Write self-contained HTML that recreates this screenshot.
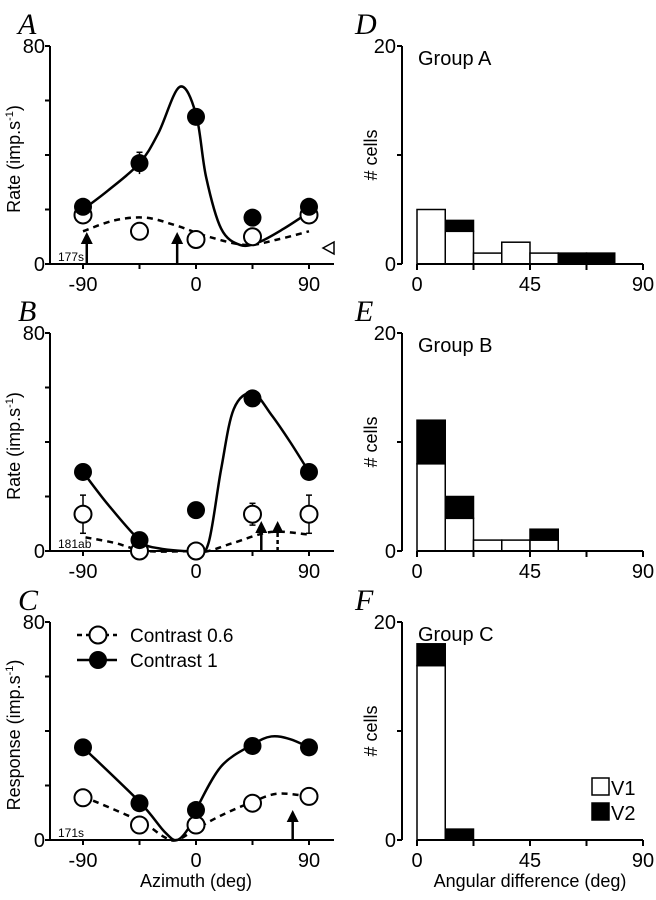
<!DOCTYPE html>
<html><head><meta charset="utf-8"><style>
html,body{margin:0;padding:0;background:#fff;}
svg{display:block;font-family:"Liberation Sans",Arial,sans-serif;}
</style></head><body>
<svg id="fig" width="656" height="900" viewBox="0 0 656 900"></svg>
<script>
// ---- Tuning curve data (azimuth deg / rate imp/s) ----
const azimuths = [-90, -45, 0, 45, 90];
const aFilled = [21, 37, 54, 17, 21];
const aOpen = [18, 12, 9, 10, 18];
const aFilledErr = [2, 4, 2, 1, 2];
const aOpenErr = [1, 1, 1, 1, 1];
const aFitSolidX = [-90, -70, -45, -30, -13, 0, 8, 20, 35, 50, 70, 90];
const aFitSolidY = [20, 27, 37, 48, 65, 55, 32, 13, 7, 8, 13, 19];
const aFitDashX = [-90, -65, -40, -15, 10, 40, 65, 90];
const aFitDashY = [12, 16, 17, 14, 10, 7, 9, 12];
const aArrows = [-87, -15];

const bFilled = [29, 4, 15, 56, 29];
const bOpen = [13.5, 0, 0, 13.5, 13.5];
const bFilledErr = [2, 1, 0, 2, 2];
const bOpenErr = [7, 0, 0, 4, 7];
const bFitSolidX = [-90, -70, -45, -30, 0, 10, 20, 30, 45, 60, 75, 90];
const bFitSolidY = [29, 17, 4, 1, 0, 3, 30, 52, 58, 50, 40, 29];
const bFitDashX = [-88, -65, -40, 0, 10, 30, 60, 90];
const bFitDashY = [5, 3, 0, 0, 0, 3, 7, 6];
const bArrows = [52, 65];

const cFilled = [34, 13.5, 11, 34.5, 34];
const cOpen = [15.5, 5.5, 5.5, 13.5, 16];
const cFitSolidX = [-90, -45, -25, -15, -5, 0, 20, 45, 60, 75, 90];
const cFitSolidY = [34, 14, 3, 0, 5, 11, 27, 35, 38, 37, 34];
const cFitDashX = [-90, -45, -25, -15, 0, 20, 45, 65, 90];
const cFitDashY = [16, 7, 1, 0, 4, 9, 14, 17, 16];
const cArrows = [77];

// ---- Histogram data (counts per 11.25 deg bin) ----
const binEdges = [0, 11.25, 22.5, 33.75, 45, 56.25, 67.5, 78.75, 90];
const dV1 = [5, 3, 1, 2, 1, 0, 0, 0];
const dV2 = [0, 1, 0, 0, 0, 1, 1, 0];
const eV1 = [8, 3, 1, 1, 1, 0, 0, 0];
const eV2 = [4, 2, 0, 0, 1, 0, 0, 0];
const fV1 = [16, 0, 0, 0, 0, 0, 0, 0];
const fV2 = [2, 1, 0, 0, 0, 0, 0, 0];
const azTicks = [-90, -45, 0, 45, 90];
const azLabels = ["-90", "0", "90"];
const angTicks = [0, 22.5, 45, 67.5, 90];

const NS = "http://www.w3.org/2000/svg";
const svg = document.getElementById('fig');
function mk(tag, attrs, parent) {
  const e = document.createElementNS(NS, tag);
  for (const k in attrs) e.setAttribute(k, attrs[k]);
  (parent || svg).appendChild(e);
  return e;
}
function txt(s, x, y, size, anchor, parent, extra) {
  const t = mk('text', Object.assign({x: x, y: y, 'font-size': size, 'text-anchor': anchor || 'start', fill: '#000'}, extra || {}), parent);
  t.textContent = s;
  return t;
}
function smooth(pts) {
  let d = 'M' + pts[0][0] + ',' + pts[0][1];
  for (let i = 0; i < pts.length - 1; i++) {
    const p0 = pts[Math.max(0, i - 1)], p1 = pts[i], p2 = pts[i + 1], p3 = pts[Math.min(pts.length - 1, i + 2)];
    const c1x = p1[0] + (p2[0] - p0[0]) / 6, c1y = p1[1] + (p2[1] - p0[1]) / 6;
    const c2x = p2[0] - (p3[0] - p1[0]) / 6, c2y = p2[1] - (p3[1] - p1[1]) / 6;
    d += ' C' + c1x + ',' + c1y + ' ' + c2x + ',' + c2y + ' ' + p2[0] + ',' + p2[1];
  }
  return d;
}

function tuningPanel(o) {
  const g = mk('g', {});
  
  
  const y0 = o.y0, y80 = o.y0 - 218;
  const X = a => 196 + a * 113 / 90;
  const Y = v => y0 - v * (y0 - y80) / 80;
  const L = txt(o.letter, 18, y80 - 12, 30, 'start', g, {'font-family': '"Liberation Serif",serif', 'font-style': 'italic'});
   
  const ax = mk('g', {stroke: '#000', 'stroke-width': 2, fill: 'none'}, g);
   
  mk('line', {x1: 50, y1: y80, x2: 50, y2: y0}, ax);
  mk('line', {x1: 49, y1: y0, x2: 334, y2: y0}, ax);
  for (let v = 0; v <= 80; v += 20) mk('line', {x1: 45, y1: Y(v), x2: 50, y2: Y(v)}, ax);
  azTicks.forEach(a => mk('line', {x1: X(a), y1: y0, x2: X(a), y2: y0 + 5}, ax));
  const yl1 = txt('80', 45, y80 + 7, 20, 'end', g);  
  const yl0 = txt('0', 45, y0 + 7, 20, 'end', g);  
  [-90, 0, 90].forEach((a, i) => { const t = txt(azLabels[i], X(a), y0 + 27, 20, 'middle', g);   });
  const yt = txt(o.ylabel, 0, 0, 18, 'middle', g, {transform: 'translate(20,' + ((y0 + y80) / 2 + 4) + ') rotate(-90)'});
   
  const sup = mk('tspan', {'font-size': 11, dy: -7}, yt); sup.textContent = '-1';
  const close = mk('tspan', {dy: 7}, yt); close.textContent = ')';
  const cl = txt(o.cell, 58, y0 - 3, 12, 'start', g);  
  const ds = mk('path', {d: smooth(o.dx.map((a, i) => [X(a), Y(o.dy[i])])), stroke: '#000', 'stroke-width': 2.5, fill: 'none', 'stroke-dasharray': '6,5'}, g);
   
  const sl = mk('path', {d: smooth(o.sx.map((a, i) => [X(a), Y(o.sy[i])])), stroke: '#000', 'stroke-width': 2.5, fill: 'none'}, g);
   
  o.arrows.forEach((a, i) => {
    const ag = mk('g', {}, g);
     
    const top = y0 - o.arrowLen;
    mk('line', {x1: X(a), y1: y0, x2: X(a), y2: top + 6, stroke: '#000', 'stroke-width': 2.5, 'stroke-dasharray': (o.dashedArrow && i === o.arrows.length - 1) ? '4,3' : 'none'}, ag);
    mk('polygon', {points: (X(a) - 6) + ',' + (top + 12) + ' ' + (X(a) + 6) + ',' + (top + 12) + ' ' + X(a) + ',' + top, fill: '#000'}, ag);
  });
  azimuths.forEach((a, i) => {
    const cx = X(a);
    if (o.openErr) {
      const e = o.openErr[i];
      if (e > 1) {
        const eb = mk('g', {stroke: '#000', 'stroke-width': 1.5}, g);
         
        mk('line', {x1: cx, y1: Y(o.open[i] - e), x2: cx, y2: Y(o.open[i] + e)}, eb);
        mk('line', {x1: cx - 3, y1: Y(o.open[i] + e), x2: cx + 3, y2: Y(o.open[i] + e)}, eb);
        mk('line', {x1: cx - 3, y1: Y(o.open[i] - e), x2: cx + 3, y2: Y(o.open[i] - e)}, eb);
      }
    }
    const c1 = mk('circle', {cx: cx, cy: Y(o.open[i]), r: 8.5, fill: '#fff', stroke: '#000', 'stroke-width': 2}, g);
     
    if (o.filledErr) {
      const e = o.filledErr[i];
      if (e > 0) {
        const eb = mk('g', {stroke: '#000', 'stroke-width': 1.5}, g);
         
        mk('line', {x1: cx, y1: Y(o.filled[i] - e), x2: cx, y2: Y(o.filled[i] + e)}, eb);
        mk('line', {x1: cx - 3, y1: Y(o.filled[i] + e), x2: cx + 3, y2: Y(o.filled[i] + e)}, eb);
      }
    }
    const c2 = mk('circle', {cx: cx, cy: Y(o.filled[i]), r: 9, fill: '#000'}, g);
     
  });
  return {g: g, X: X, Y: Y, y0: y0};
}

const pa = tuningPanel({name: 'panel-a', letter: 'A', y0: 264, ylabel: 'Rate (imp.s', cell: '177s', filled: aFilled, open: aOpen, filledErr: aFilledErr, openErr: aOpenErr, sx: aFitSolidX, sy: aFitSolidY, dx: aFitDashX, dy: aFitDashY, arrows: aArrows, arrowLen: 32});
const tri = mk('polygon', {points: '323,248 334,242 334,254', fill: '#fff', stroke: '#000', 'stroke-width': 1.5}, pa.g);
 
tuningPanel({name: 'panel-b', letter: 'B', y0: 551, ylabel: 'Rate (imp.s', cell: '181ab', filled: bFilled, open: bOpen, filledErr: bFilledErr, openErr: bOpenErr, sx: bFitSolidX, sy: bFitSolidY, dx: bFitDashX, dy: bFitDashY, arrows: bArrows, arrowLen: 30, dashedArrow: true});
const pc = tuningPanel({name: 'panel-c', letter: 'C', y0: 840, ylabel: 'Response (imp.s', cell: '171s', filled: cFilled, open: cOpen, sx: cFitSolidX, sy: cFitSolidY, dx: cFitDashX, dy: cFitDashY, arrows: cArrows, arrowLen: 30});
const xt = txt('Azimuth (deg)', 196, 887, 18, 'middle', pc.g);  
const lg = mk('g', {}, pc.g);
 
mk('line', {x1: 77, y1: 635, x2: 117, y2: 635, stroke: '#000', 'stroke-width': 2.5, 'stroke-dasharray': '5,4'}, lg);
mk('circle', {cx: 98, cy: 635, r: 8.5, fill: '#fff', stroke: '#000', 'stroke-width': 2}, lg);
txt('Contrast 0.6', 130, 642, 19, 'start', lg);
mk('line', {x1: 77, y1: 660, x2: 117, y2: 660, stroke: '#000', 'stroke-width': 2.5}, lg);
mk('circle', {cx: 98, cy: 660, r: 9, fill: '#000'}, lg);
txt('Contrast 1', 130, 667, 19, 'start', lg);

function histPanel(o) {
  const g = mk('g', {});
  
  
  const y0 = o.y0, y20 = o.y0 - 218;
  const X = a => 417 + a * 226 / 90;
  const Y = v => y0 - v * (y0 - y20) / 20;
  const L = txt(o.letter, 355, y20 - 12, 30, 'start', g, {'font-family': '"Liberation Serif",serif', 'font-style': 'italic'});
   
  const gt = txt(o.group, 418, y20 + 19, 20, 'start', g);  
  binEdges.slice(0, -1).forEach((b, i) => {
    const x1 = X(b), x2 = X(binEdges[i + 1]);
    if (o.v1[i] > 0) {
      const r = mk('rect', {x: x1, y: Y(o.v1[i]), width: x2 - x1, height: Y(0) - Y(o.v1[i]), fill: '#fff', stroke: '#000', 'stroke-width': 1.5}, g);
       
    }
    if (o.v2[i] > 0) {
      const r = mk('rect', {x: x1, y: Y(o.v1[i] + o.v2[i]), width: x2 - x1, height: Y(o.v1[i]) - Y(o.v1[i] + o.v2[i]), fill: '#000', stroke: '#000', 'stroke-width': 1.5}, g);
       
    }
  });
  const ax = mk('g', {stroke: '#000', 'stroke-width': 2}, g);
   
  mk('line', {x1: 402, y1: y20, x2: 402, y2: y0}, ax);
  [0, 10, 20].forEach(v => mk('line', {x1: 397, y1: Y(v), x2: 402, y2: Y(v)}, ax));
  mk('line', {x1: 417, y1: y0, x2: 643, y2: y0}, ax);
  angTicks.forEach(a => mk('line', {x1: X(a), y1: y0, x2: X(a), y2: y0 + 6}, ax));
  const t20 = txt('20', 396, y20 + 7, 20, 'end', g);  
  const t0 = txt('0', 396, y0 + 7, 20, 'end', g);  
  [0, 45, 90].forEach(a => { const t = txt(String(a), X(a), y0 + 27, 20, 'middle', g);   });
  const yt = txt('# cells', 0, 0, 18, 'middle', g, {transform: 'translate(377,' + Y(10) + ') rotate(-90)'});
   
  return g;
}
histPanel({name: 'panel-d', letter: 'D', y0: 264, group: 'Group A', v1: dV1, v2: dV2});
histPanel({name: 'panel-e', letter: 'E', y0: 551, group: 'Group B', v1: eV1, v2: eV2});
const pf = histPanel({name: 'panel-f', letter: 'F', y0: 840, group: 'Group C', v1: fV1, v2: fV2});
const xt2 = txt('Angular difference (deg)', 530, 887, 18, 'middle', pf);  
const hl = mk('g', {}, pf);
 
mk('rect', {x: 592, y: 778, width: 17, height: 17, fill: '#fff', stroke: '#000', 'stroke-width': 1.5}, hl);
txt('V1', 611, 795, 20, 'start', hl);
mk('rect', {x: 592, y: 803, width: 17, height: 17, fill: '#000', stroke: '#000', 'stroke-width': 1.5}, hl);
txt('V2', 611, 820, 20, 'start', hl);
</script>
</body></html>
